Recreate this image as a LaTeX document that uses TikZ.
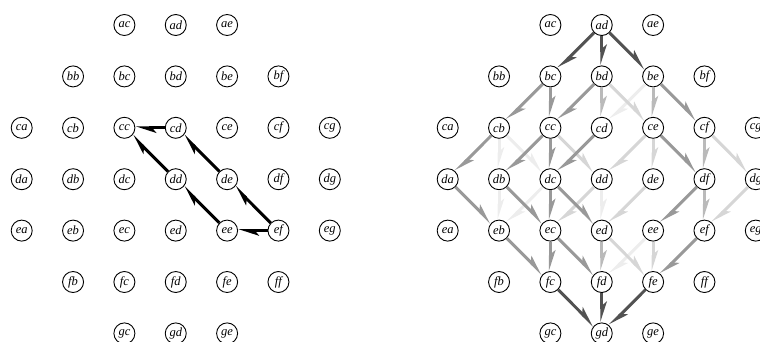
\documentclass[tikz,border=0pt]{standalone}
\usepackage{fontspec}
\setmainfont{Liberation Serif}
\usetikzlibrary{arrows.meta}
\definecolor{darkc}{gray}{0.32}
\definecolor{medc}{gray}{0.6}
\definecolor{lightc}{gray}{0.73}
\definecolor{lighterc}{gray}{0.84}
\definecolor{faintc}{gray}{0.93}
\begin{document}
\begin{tikzpicture}[x=1pt,y=-1pt,
  vtx/.style={circle,draw,line width=0.9pt,minimum size=21pt,inner sep=0pt,fill=white,
    font=\fontsize{12.5}{13}\selectfont\itshape},
  arr/.style={line width=3pt,-{Stealth[harpoon,length=16pt,width=10pt,inset=4pt]}},
]
\useasboundingbox (0,0) rectangle (760,341);
\foreach \side/\off in {L/0,R/426}{
  \foreach \n/\j/\i in {ac/0/2,ad/0/3,ae/0/4,
    bb/1/1,bc/1/2,bd/1/3,be/1/4,bf/1/5,
    ca/2/0,cb/2/1,cc/2/2,cd/2/3,ce/2/4,cf/2/5,cg/2/6,
    da/3/0,db/3/1,dc/3/2,dd/3/3,de/3/4,df/3/5,dg/3/6,
    ea/4/0,eb/4/1,ec/4/2,ed/4/3,ee/4/4,ef/4/5,eg/4/6,
    fb/5/1,fc/5/2,fd/5/3,fe/5/4,ff/5/5,
    gc/6/2,gd/6/3,ge/6/4}{
    \node[vtx] (\side-\n) at ({21.7+\off+51.35*\i},{25+51.4*\j}) {\n};
  }
}
% left graph
\foreach \a/\b in {cd/cc,dd/cc,de/cd,ee/dd,ef/de,ef/ee}
  \draw[arr,black] (L-\a) -- (L-\b);
% right graph
\foreach \a/\b in {be/cd,cb/db,cb/dc,db/eb,dc/eb,dd/ed,ee/fd}
  \draw[arr,faintc] (R-\a) -- (R-\b);
\foreach \a/\b in {bd/ce,cc/dd,ce/dd,ce/de,cf/dg,dd/ec,de/ed,dg/ef,ed/fe,ee/fe}
  \draw[arr,lighterc] (R-\a) -- (R-\b);
\foreach \a/\b in {bd/cd,be/ce,cf/df,df/ef,ed/fd}
  \draw[arr,lightc] (R-\a) -- (R-\b);
\foreach \a/\b in {bc/cb,bc/cc,bd/cc,be/cf,cb/da,cc/db,cc/dc,cd/dc,ce/df,da/eb,db/ec,dc/ec,dc/ed,df/ee,eb/fc,ec/fc,ec/fd,ef/fe}
  \draw[arr,medc] (R-\a) -- (R-\b);
\foreach \a/\b in {ad/bc,ad/bd,ad/be,fc/gd,fd/gd,fe/gd}
  \draw[arr,darkc] (R-\a) -- (R-\b);
\end{tikzpicture}
\end{document}
